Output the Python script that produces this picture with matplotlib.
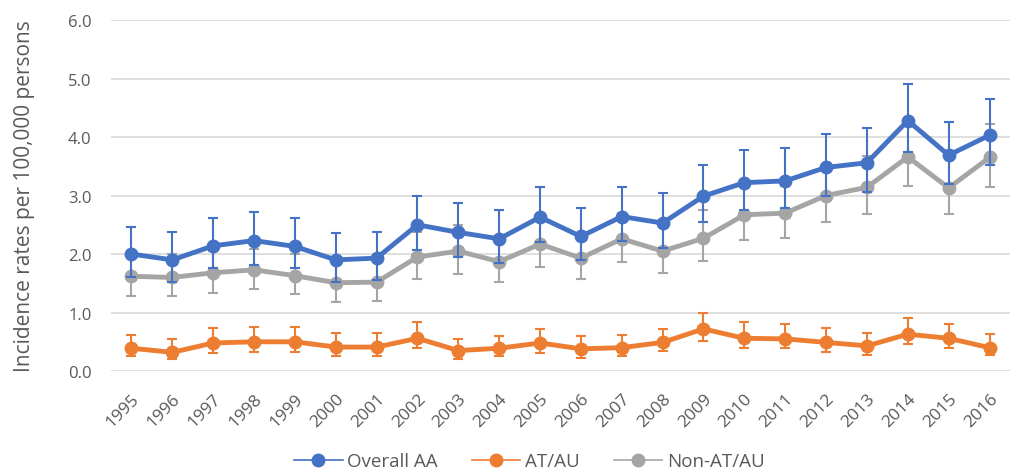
import matplotlib
matplotlib.use("Agg")
import matplotlib.pyplot as plt
from matplotlib.lines import Line2D
import numpy as np

years = [str(y) for y in range(1995, 2017)]

overall = [2.00, 1.90, 2.14, 2.23, 2.13, 1.90, 1.93, 2.50, 2.37, 2.26, 2.63, 2.30, 2.64, 2.53, 2.99,
           3.22, 3.25, 3.48, 3.56, 4.28, 3.69, 4.03]
overall_hi = [2.47, 2.38, 2.61, 2.72, 2.61, 2.36, 2.38, 3.00, 2.88, 2.75, 3.14, 2.79, 3.14, 3.04, 3.53,
              3.78, 3.81, 4.05, 4.15, 4.91, 4.26, 4.65]
overall_lo = [1.61, 1.52, 1.76, 1.82, 1.76, 1.52, 1.55, 2.07, 1.95, 1.85, 2.20, 1.90, 2.22, 2.10, 2.54,
              2.75, 2.78, 2.99, 3.06, 3.74, 3.20, 3.53]

atau = [0.39, 0.32, 0.48, 0.50, 0.50, 0.41, 0.41, 0.56, 0.35, 0.39, 0.48, 0.38, 0.40, 0.49, 0.72,
        0.56, 0.55, 0.49, 0.43, 0.63, 0.56, 0.40]
atau_hi = [0.62, 0.54, 0.74, 0.76, 0.76, 0.65, 0.65, 0.83, 0.55, 0.60, 0.72, 0.60, 0.62, 0.72, 1.00,
           0.83, 0.81, 0.74, 0.65, 0.90, 0.81, 0.63]
atau_lo = [0.26, 0.21, 0.31, 0.33, 0.33, 0.26, 0.26, 0.39, 0.21, 0.25, 0.31, 0.23, 0.26, 0.34, 0.52,
           0.39, 0.39, 0.33, 0.27, 0.46, 0.40, 0.27]

nonatau = [1.62, 1.60, 1.68, 1.73, 1.63, 1.51, 1.52, 1.95, 2.05, 1.87, 2.17, 1.93, 2.26, 2.05, 2.27,
           2.67, 2.70, 3.00, 3.14, 3.66, 3.13, 3.65]
nonatau_hi = [1.99, 2.00, 2.05, 2.09, 2.00, 1.88, 1.89, 2.37, 2.50, 2.27, 2.61, 2.34, 2.70, 2.47, 2.75,
              3.14, 3.17, 3.50, 3.68, 4.19, 3.62, 4.22]
nonatau_lo = [1.29, 1.28, 1.33, 1.40, 1.31, 1.18, 1.20, 1.57, 1.66, 1.52, 1.77, 1.57, 1.86, 1.68, 1.88,
              2.24, 2.27, 2.54, 2.68, 3.17, 2.68, 3.14]

labels = ["Overall AA", "AT/AU", "Non-AT/AU"]
colors = ["#4472C4", "#ED7D31", "#A5A5A5"]

plt.rcParams['font.family'] = ['Open Sans', 'DejaVu Sans']

fig = plt.figure(figsize=(10.14, 4.77), dpi=100)
ax = fig.add_axes([0.1095, 0.220, 0.8865, 0.736])

x = np.arange(len(years))
series = [(overall, overall_lo, overall_hi), (atau, atau_lo, atau_hi), (nonatau, nonatau_lo, nonatau_hi)]
zorders = [5, 3, 4]
for (v, lo, hi), c, lab, z in zip(series, colors, labels, zorders):
    v = np.array(v); lo = np.array(lo); hi = np.array(hi)
    ax.errorbar(x, v, yerr=[v - lo, hi - v], fmt='none', ecolor=c, elinewidth=1.5,
                capsize=3.8, capthick=1.5, zorder=z - 0.5)
    ax.plot(x, v, color=c, lw=3.5, marker='o', markersize=9, zorder=z, label=lab)

ax.set_xlim(-0.5, len(years) - 0.5)
ax.set_ylim(0, 6)
ax.set_yticks(np.arange(0, 6.01, 1.0))
ax.set_yticklabels([f"{t:.1f}" for t in np.arange(0, 6.01, 1.0)])
ax.set_xticks(x)
ax.set_xticklabels(years, rotation=45, ha='right', va='top', rotation_mode='anchor')
ax.grid(axis='y', color='#D9D9D9', lw=1.2)
ax.set_axisbelow(True)
for s in ax.spines.values():
    s.set_visible(False)
ax.tick_params(axis='both', length=0, labelsize=12, colors='#595959')
ax.tick_params(axis='x', labelsize=12.5)
ax.tick_params(axis='y', pad=14)
ax.tick_params(axis='x', pad=14)
ax.set_ylabel("Incidence rates per 100,000 persons", fontsize=15, color='#595959', labelpad=24)

handles = [Line2D([], [], color=c, lw=1.2, marker='o', markersize=9) for c in colors]
fig.legend(handles, labels, loc='center', bbox_to_anchor=(0.522, 0.031), ncol=3, frameon=False,
           fontsize=13.5, labelcolor='#595959', handlelength=2.6, columnspacing=1.8, handletextpad=0.25)

fig.savefig("out.png", dpi=100)
